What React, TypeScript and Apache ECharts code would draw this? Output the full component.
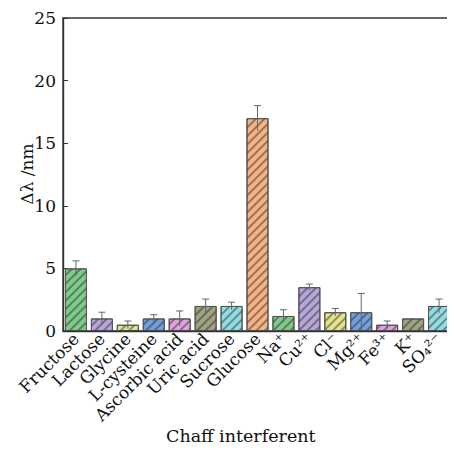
import React, { useEffect, useRef } from "react";
import * as echarts from "echarts";

// Interferents tested and their wavelength shift (nm) with standard deviation
const categories = [
  "Fructose", "Lactose", "Glycine", "L-cysteine", "Ascorbic acid", "Uric acid",
  "Sucrose", "Glucose", "Na⁺", "Cu²⁺", "Cl⁻", "Mg²⁺", "Fe³⁺", "K⁺", "SO₄²⁻",
];
const shift = [5.0, 1.0, 0.5, 1.0, 1.0, 2.0, 2.0, 17.0, 1.2, 3.5, 1.5, 1.5, 0.5, 1.0, 2.0];
const deviation = [0.6, 0.5, 0.3, 0.3, 0.6, 0.55, 0.3, 1.0, 0.5, 0.25, 0.3, 1.5, 0.3, 0.0, 0.55];
const fills = [
  "#7fcb8c", "#b6a6da", "#e4e48e", "#72a0dc", "#e2a2e0", "#a0a282", "#92dde4", "#f5b283",
  "#7fcb8c", "#b6a6da", "#e4e48e", "#72a0dc", "#e2a2e0", "#a0a282", "#92dde4",
];
const yTicks = [0, 5, 10, 15, 20, 25];

const FONT = "DejaVu Serif";
const INK = "#111";

export default function App() {
  const ref = useRef<HTMLDivElement>(null);

  useEffect(() => {
    if (!ref.current) return;
    const chart = echarts.init(ref.current, undefined, { renderer: "svg" });

    const hatch = {
      symbol: "rect",
      symbolSize: 1,
      dashArrayX: [1, 0],
      dashArrayY: [1.4, 3.2],
      rotation: -Math.PI / 4,
      color: "rgba(40,40,40,0.45)",
    };

    chart.setOption({
      animation: false,
      backgroundColor: "#ffffff",
      grid: {
        left: 63,
        right: 3,
        top: 18,
        bottom: 119,
        show: true,
        borderColor: "#333",
        borderWidth: 1.4,
      },
      xAxis: {
        type: "category",
        data: categories,
        z: 5,
        axisLine: { lineStyle: { color: "#333", width: 1.4 } },
        axisTick: { inside: true, alignWithLabel: true, length: 5, lineStyle: { color: "#444" } },
        axisLabel: {
          rotate: 45,
          interval: 0,
          margin: 5,
          color: INK,
          fontFamily: FONT,
          fontSize: 17,
        },
      },
      yAxis: {
        type: "value",
        min: yTicks[0],
        max: yTicks[yTicks.length - 1],
        interval: 5,
        splitLine: { show: false },
        axisLine: { show: true, lineStyle: { color: "#333", width: 1.4 } },
        axisTick: { show: true, inside: true, length: 5, lineStyle: { color: "#333" } },
        axisLabel: { margin: 7, color: INK, fontFamily: FONT, fontSize: 17 },
      },
      graphic: [
        {
          type: "text",
          x: 27,
          y: 174,
          rotation: Math.PI / 2,
          style: {
            text: "Δλ /nm",
            fill: INK,
            font: `17px "${FONT}"`,
            align: "center",
            verticalAlign: "middle",
          },
        },
        {
          type: "text",
          left: 166,
          top: 427,
          style: {
            text: "Chaff interferent",
            fill: INK,
            font: `17.5px "${FONT}"`,
          },
        },
      ],
      series: [
        {
          type: "bar",
          barWidth: 22,
          data: shift.map((v, i) => ({
            value: v,
            itemStyle: {
              color: fills[i],
              borderColor: "#555",
              borderWidth: 1,
              decal: hatch,
            },
          })),
          z: 2,
        },
        {
          type: "custom",
          z: 3,
          data: shift.map((v, i) => [i, v - deviation[i], v + deviation[i]]),
          renderItem: (params: any, api: any) => {
            if (api.value(2) - api.value(1) <= 0) return null;
            const lo = api.coord([api.value(0), api.value(1)]);
            const hi = api.coord([api.value(0), api.value(2)]);
            const half = 3.5;
            const style = { stroke: "#666", lineWidth: 1 };
            return {
              type: "group",
              children: [
                { type: "line", shape: { x1: hi[0], y1: hi[1], x2: lo[0], y2: lo[1] }, style },
                { type: "line", shape: { x1: hi[0] - half, y1: hi[1], x2: hi[0] + half, y2: hi[1] }, style },
              ],
            };
          },
        },
      ],
    });

    return () => chart.dispose();
  }, []);

  return <div ref={ref} style={{ width: 455, height: 450, margin: -8 }} />;
}
